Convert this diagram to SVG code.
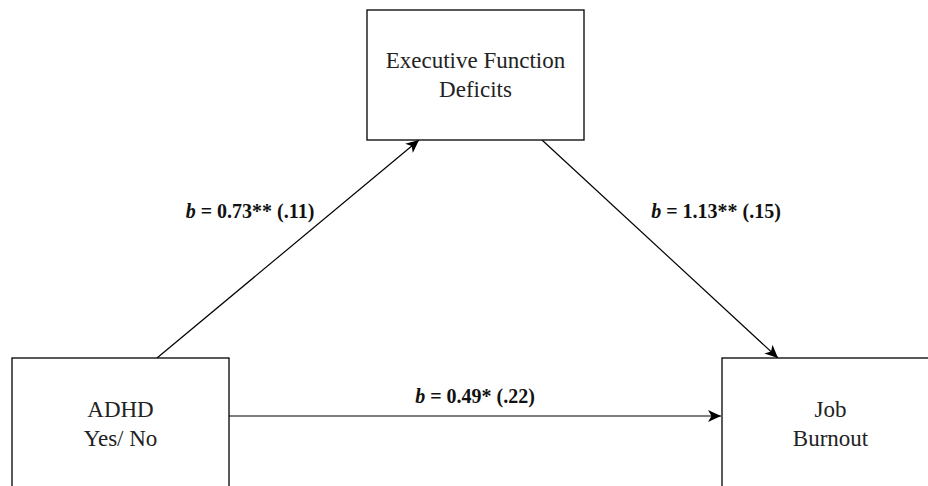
<svg xmlns="http://www.w3.org/2000/svg" width="928" height="486" viewBox="0 0 928 486">
<defs>
<style>
.box{fill:#fff;stroke:#000;stroke-width:1.3}
.t{font-family:'Liberation Serif','DejaVu Serif',serif;font-size:23px;fill:#222;text-anchor:middle}
.lbl{font-family:'Liberation Serif','DejaVu Serif',serif;font-size:20px;font-weight:bold;fill:#111;text-anchor:middle}
.edge{stroke:#000;stroke-width:1.2;fill:none;marker-end:url(#arr)}
</style>
<marker id="arr" markerUnits="userSpaceOnUse" markerWidth="14" markerHeight="12" viewBox="0 0 14 12" refX="13" refY="6" orient="auto">
<path d="M0,0 L13,6 L0,12 L3.5,6 Z" fill="#000"/>
</marker>
</defs>
<rect width="928" height="486" fill="#fff"/>
<g id="connectors">
<line class="edge" x1="157" y1="358" x2="419" y2="140"/>
<line class="edge" x1="542" y1="140" x2="778" y2="358"/>
<line class="edge" x1="229" y1="416" x2="721" y2="416"/>
</g>
<g id="efd">
<rect class="box" x="367" y="10" width="217" height="130"/>
<text class="t" x="475.5" y="68">Executive Function</text>
<text class="t" x="475.5" y="97">Deficits</text>
</g>
<g id="adhd">
<rect class="box" x="12" y="358" width="217" height="140"/>
<text class="t" x="120.5" y="417">ADHD</text>
<text class="t" x="120.5" y="446">Yes/ No</text>
</g>
<g id="burnout">
<rect class="box" x="722" y="358" width="217" height="140"/>
<text class="t" x="830.5" y="417">Job</text>
<text class="t" x="830.5" y="446">Burnout</text>
</g>
<g id="labels">
<text class="lbl" x="250" y="218"><tspan font-style="italic">b</tspan> = 0.73** (.11)</text>
<text class="lbl" x="716" y="218"><tspan font-style="italic">b</tspan> = 1.13** (.15)</text>
<text class="lbl" x="475" y="403"><tspan font-style="italic">b</tspan> = 0.49* (.22)</text>
</g>
</svg>
